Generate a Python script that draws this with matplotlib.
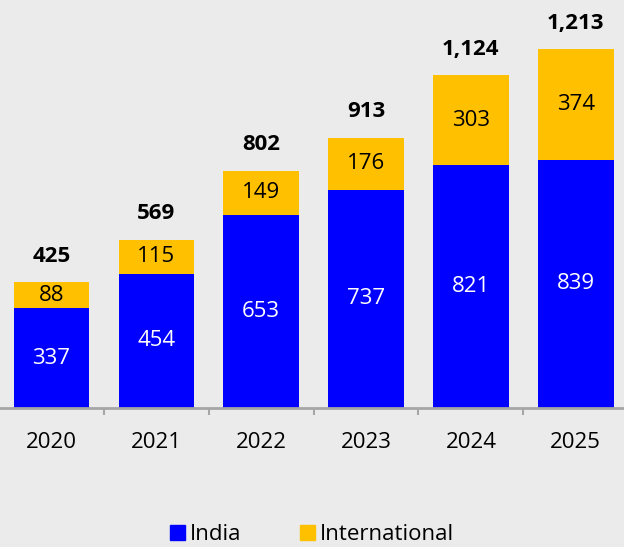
import numpy as np
import matplotlib.pyplot as plt
from matplotlib.patches import Patch

years = ['2020', '2021', '2022', '2023', '2024', '2025']
india = [337, 454, 653, 737, 821, 839]
international = [88, 115, 149, 176, 303, 374]
totals = [425, 569, 802, 913, 1124, 1213]

BLUE = '#0000ff'
GOLD = '#ffc000'
BG = '#ebebeb'

plt.rcParams['font.family'] = ['Open Sans', 'DejaVu Sans']

fig = plt.figure(figsize=(6.24, 5.47), dpi=100, facecolor=BG)
ax = fig.add_axes([0, 0.254, 1, 0.746], facecolor=BG)

x = np.arange(len(years))
w = 0.72
ax.bar(x, india, w, color=BLUE, label='India')
ax.bar(x, international, w, bottom=india, color=GOLD, label='International')

for i in range(len(years)):
    ax.text(x[i], india[i] / 2, f'{india[i]:,}', ha='center', va='center',
            color='white', fontsize=16)
    ax.text(x[i], india[i] + international[i] / 2, f'{international[i]:,}',
            ha='center', va='center', color='black', fontsize=16)
    ax.annotate(f'{totals[i]:,}', (x[i], india[i] + international[i]),
                xytext=(0, 11), textcoords='offset points', ha='center',
                va='bottom', fontsize=16, fontweight='bold')

ax.set_xlim(-0.49, 5.46)
ax.set_ylim(0, 1378)
ax.set_xticks(x)
ax.set_xticklabels(years, fontsize=16)
ax.set_xticks(x[:-1] + 0.5, minor=True)
ax.tick_params(axis='x', which='major', length=0, pad=17)
ax.tick_params(axis='x', which='minor', length=5, width=1.5, color='#a6a6a6', direction='out')
ax.set_yticks([])
for s in ['top', 'right', 'left']:
    ax.spines[s].set_visible(False)
ax.spines['bottom'].set_color('#a6a6a6')
ax.spines['bottom'].set_linewidth(2)

fig.legend(handles=[Patch(color=BLUE, label='India'), Patch(color=GOLD, label='International')],
           loc='center', bbox_to_anchor=(0.5, 0.022), ncol=2, frameon=False,
           fontsize=16, handlelength=0.68, handleheight=0.68, handletextpad=0.25,
           columnspacing=2.6)

fig.savefig('out.png', dpi=100, facecolor=BG)
